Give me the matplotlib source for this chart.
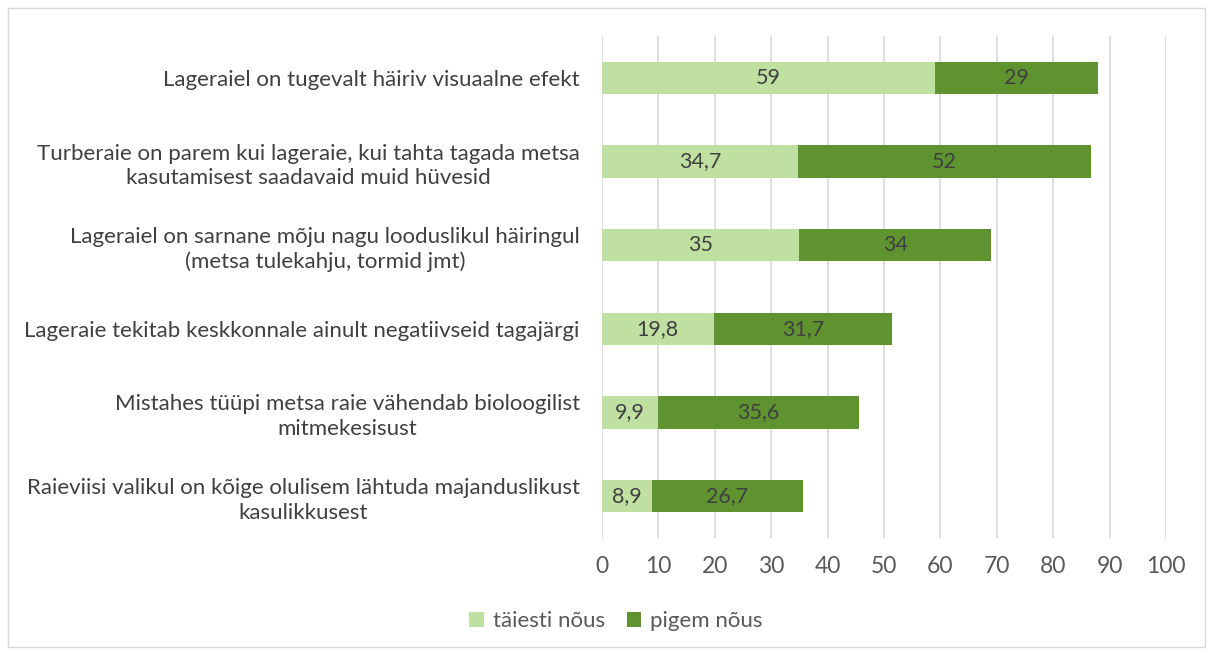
import matplotlib
matplotlib.use("Agg")
import matplotlib.pyplot as plt
from matplotlib.patches import Rectangle

categories = [
    "Lageraiel on tugevalt häiriv visuaalne efekt",
    "Turberaie on parem kui lageraie, kui tahta tagada metsa\nkasutamisest saadavaid muid hüvesid",
    "Lageraiel on sarnane mõju nagu looduslikul häiringul\n(metsa tulekahju, tormid jmt)",
    "Lageraie tekitab keskkonnale ainult negatiivseid tagajärgi",
    "Mistahes tüüpi metsa raie vähendab bioloogilist\nmitmekesisust",
    "Raieviisi valikul on kõige olulisem lähtuda majanduslikust\nkasulikkusest",
]
taiesti = [59, 34.7, 35, 19.8, 9.9, 8.9]
pigem = [29, 52, 34, 31.7, 35.6, 26.7]
series_names = ["täiesti nõus", "pigem nõus"]
xticks = list(range(0, 101, 10))

c_light = "#C0E0A2"
c_dark = "#5E9330"
txt = "#404040"
tick_c = "#595959"
fs = 16

plt.rcParams['font.family'] = ['Lato', 'DejaVu Sans']

fig = plt.figure(figsize=(12.13, 6.55), dpi=100)
ax = fig.add_axes([602/1213, 1-538/655, (1166-602)/1213, (538-36)/655])

y = list(range(len(categories)))
ax.barh(y, taiesti, height=0.39, color=c_light, label=series_names[0], zorder=3)
ax.barh(y, pigem, left=taiesti, height=0.39, color=c_dark, label=series_names[1], zorder=3)

def fmt(v):
    return ("%g" % v).replace(".", ",")

for i in y:
    ax.text(taiesti[i]/2, i, fmt(taiesti[i]), ha="center", va="center", fontsize=15.5, color=txt, zorder=4)
    ax.text(taiesti[i] + pigem[i]/2, i, fmt(pigem[i]), ha="center", va="center", fontsize=15.5, color=txt, zorder=4)

ax.set_ylim(len(categories)-0.5, -0.5)
ax.set_xlim(0, 100)
ax.set_xticks(xticks)
ax.set_xticklabels([str(t) for t in xticks], fontsize=16.5, color=tick_c)
ax.set_yticks(y)
ax.set_yticklabels(categories, fontsize=fs, color=txt, ha="right", linespacing=1.3)
ax.tick_params(axis="both", length=0)
ax.tick_params(axis="x", pad=13)
ax.tick_params(axis="y", pad=16)
for lbl in ax.get_yticklabels():
    lbl.set_multialignment("center")
ax.grid(axis="x", color="#D9D9D9", linewidth=1.2, zorder=0)
for s in ax.spines.values():
    s.set_visible(False)

leg = fig.legend(loc="center", bbox_to_anchor=(616/1213, 1-621/655), ncol=2, frameon=False,
                 fontsize=fs, handlelength=0.65, handleheight=0.65, columnspacing=1.0, handletextpad=0.4)
for t in leg.get_texts():
    t.set_color(tick_c)

fig.patches.append(Rectangle((8/1213, 8/655), 1197/1213, 639/655, transform=fig.transFigure,
                             fill=False, edgecolor="#D9D9D9", linewidth=1))

fig.savefig("out.png", dpi=100)
